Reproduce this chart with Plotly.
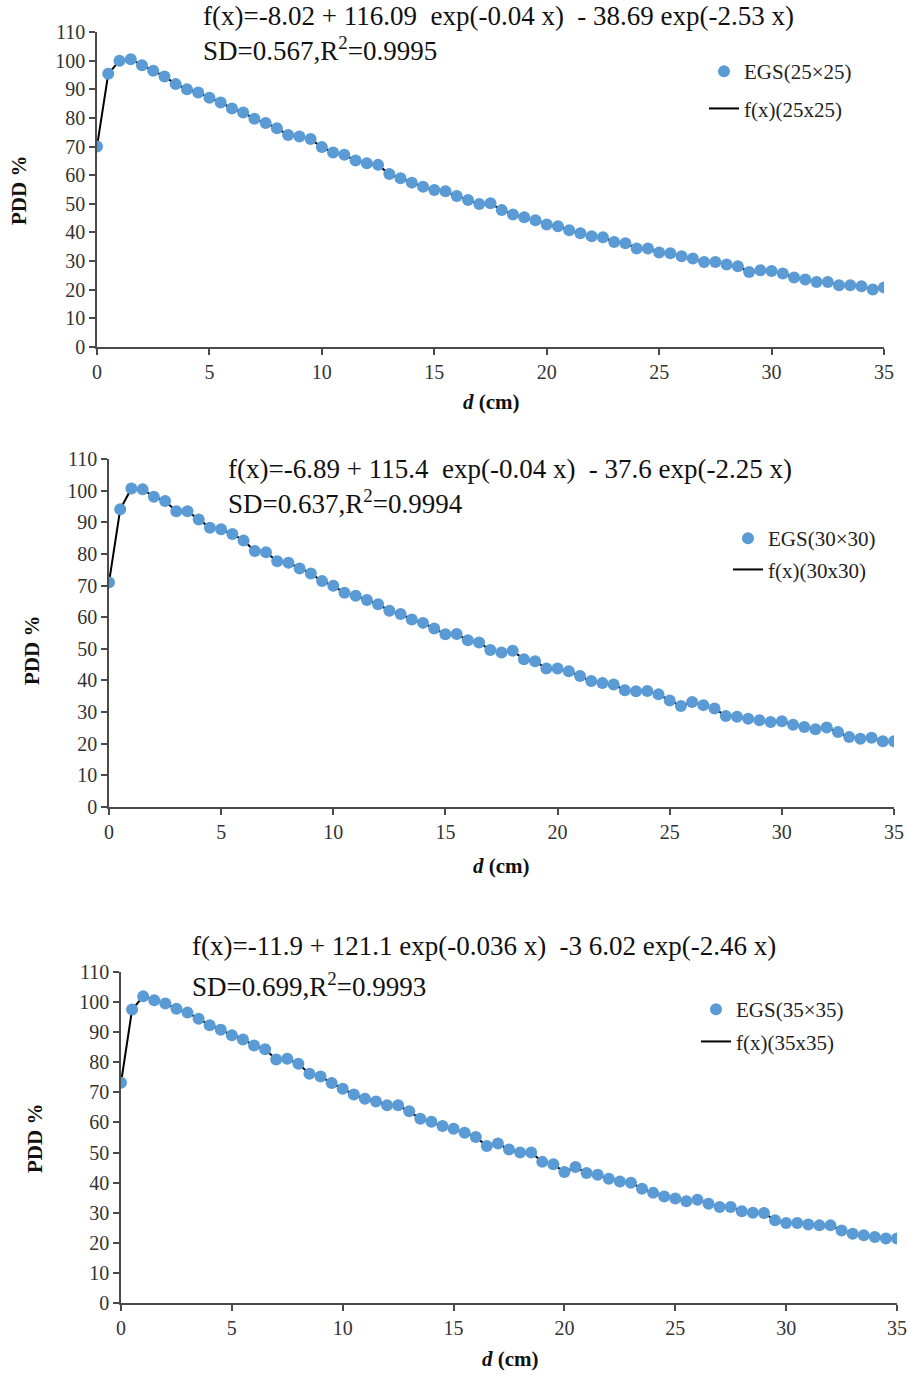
import plotly.graph_objects as go

# Depth grid (cm), shared by all three field sizes
depth_cm = [i * 0.5 for i in range(71)]

# EGS percentage depth dose, 25x25 field
pdd_25 = [70.0, 95.4, 100.0, 100.5, 98.4, 96.5, 94.5, 91.8, 90.0, 88.9,
          87.0, 85.4, 83.3, 81.9, 79.7, 78.2, 76.4, 74.0, 73.5, 72.6,
          69.8, 67.9, 67.1, 65.1, 64.2, 63.6, 60.4, 58.9, 57.4, 56.0,
          54.8, 54.4, 52.7, 51.3, 49.9, 50.2, 47.8, 46.3, 45.3, 44.3,
          42.8, 42.2, 40.8, 39.7, 38.7, 38.3, 36.7, 36.2, 34.4, 34.4,
          33.0, 32.7, 31.7, 30.9, 29.7, 29.7, 28.8, 28.2, 26.2, 26.8,
          26.5, 25.7, 24.3, 23.6, 22.7, 22.7, 21.6, 21.6, 21.2, 20.1,
          20.8]

# EGS percentage depth dose, 30x30 field
pdd_30 = [71.0, 94.1, 100.7, 100.4, 98.1, 96.7, 93.5, 93.5, 90.9, 88.3,
          87.8, 86.3, 84.2, 80.9, 80.5, 77.7, 77.2, 75.4, 73.8, 71.4,
          69.9, 67.7, 66.8, 65.4, 64.1, 62.0, 61.0, 59.3, 58.2, 56.4,
          54.6, 54.7, 52.7, 52.0, 49.6, 48.8, 49.4, 46.7, 46.1, 43.8,
          43.8, 42.9, 41.4, 39.8, 39.2, 38.7, 36.9, 36.6, 36.7, 35.6,
          33.7, 31.9, 33.2, 32.2, 31.1, 28.8, 28.5, 27.9, 27.4, 26.9,
          27.1, 26.0, 25.3, 24.6, 25.1, 23.7, 22.1, 21.6, 21.9, 20.8,
          20.8]

# EGS percentage depth dose, 35x35 field
pdd_35 = [73.2, 97.5, 101.9, 100.6, 99.5, 97.8, 96.5, 94.5, 92.3, 90.8,
          89.0, 87.6, 85.6, 84.3, 80.9, 81.2, 79.5, 76.2, 75.3, 73.1,
          71.2, 69.3, 67.9, 67.0, 65.7, 65.7, 63.7, 61.2, 60.2, 58.8,
          57.9, 56.6, 55.2, 52.2, 53.0, 51.0, 50.0, 50.0, 46.9, 46.1,
          43.5, 45.2, 43.2, 42.6, 41.3, 40.4, 40.0, 38.0, 36.6, 35.4,
          34.7, 33.8, 34.3, 33.0, 31.9, 31.9, 30.5, 30.0, 29.9, 27.5,
          26.6, 26.6, 26.1, 25.8, 25.8, 24.1, 23.0, 22.5, 21.9, 21.4,
          21.4]

eq_text = [
    "f(x)=-8.02 + 116.09  exp(-0.04 x)  - 38.69 exp(-2.53 x)",
    "f(x)=-6.89 + 115.4  exp(-0.04 x)  - 37.6 exp(-2.25 x)",
    "f(x)=-11.9 + 121.1 exp(-0.036 x)  -3 6.02 exp(-2.46 x)",
]
stat_text = [
    "SD=0.567,R<sup>2</sup>=0.9995",
    "SD=0.637,R<sup>2</sup>=0.9994",
    "SD=0.699,R<sup>2</sup>=0.9993",
]
egs_names = ["EGS(25×25)", "EGS(30×30)", "EGS(35×35)"]
fit_names = ["f(x)(25x25)", "f(x)(30x30)", "f(x)(35x35)"]

x_ticks = [0, 5, 10, 15, 20, 25, 30, 35]
y_ticks = list(range(0, 111, 10))

W, H = 908, 1374
FONT = "Liberation Serif"
BLUE = "#5B9BD5"
AXIS = "#4a4a4a"


def px_x(p):
    return p / W


def px_y(p):
    return 1 - p / H


# Plot-area boxes in pixels: (left, right, top, bottom)
boxes = [(97, 884, 32, 347), (109, 894, 459, 807), (121, 897, 972, 1303)]
# Equation block: left px, line-1 centre, line-2 centre, stacked as one block?
eq_pos = [(201, 18, 48, True), (226, 471, 503, True), (190, 946, 985, False)]
# Legend anchor (left px, top px, gap between items)
leg_pos = [(704, 51, 7), (728, 518, 1), (696, 989, 2)]
# Axis-title anchor (PDD x, PDD y, d x, d y)
title_pos = [(19, 191, 491, 402), (32, 651, 502, 866), (35, 1139, 510, 1359)]

fig = go.Figure()
layout = dict(
    width=W, height=H,
    margin=dict(l=0, r=0, t=0, b=0, autoexpand=False),
    paper_bgcolor="white", plot_bgcolor="white",
    font=dict(family=FONT, color="#222"),
    annotations=[],
)

for i, pdd in enumerate([pdd_25, pdd_30, pdd_35]):
    n = "" if i == 0 else str(i + 1)
    leg = "legend" if i == 0 else f"legend{i + 1}"
    xa, ya = "x" + n, "y" + n
    # fitted curve runs beneath the Monte Carlo points
    fig.add_trace(go.Scatter(
        x=depth_cm, y=pdd, mode="lines", name=fit_names[i],
        line=dict(color="black", width=2),
        xaxis=xa, yaxis=ya, legend=leg, legendgroup=f"g{i}b", legendrank=2,
    ))
    fig.add_trace(go.Scatter(
        x=depth_cm, y=pdd, mode="markers", name=egs_names[i],
        marker=dict(color=BLUE, size=12, line=dict(width=0)),
        xaxis=xa, yaxis=ya, legend=leg, legendgroup=f"g{i}a", legendrank=1,
    ))

    l, r, t, b = boxes[i]
    common = dict(
        showline=True, linecolor=AXIS, linewidth=1.5,
        ticks="outside", ticklen=6, tickcolor=AXIS, tickwidth=1.5,
        showgrid=False, zeroline=False, automargin=False,
        tickfont=dict(family=FONT, size=20, color="#333"),
    )
    layout["xaxis" + n] = dict(
        common, domain=[px_x(l), px_x(r)], range=[0, 35],
        tickvals=x_ticks, anchor=ya,
    )
    layout["yaxis" + n] = dict(
        common, domain=[px_y(b), px_y(t)], range=[0, 110],
        tickvals=y_ticks, anchor=xa,
    )

    lx, ly, gap = leg_pos[i]
    layout[leg] = dict(
        x=px_x(lx), y=px_y(ly), xanchor="left", yanchor="top",
        bgcolor="rgba(0,0,0,0)", tracegroupgap=gap,
        font=dict(family=FONT, size=21, color="#222"),
    )

    ex, e1, e2, stacked = eq_pos[i]
    eq_font = dict(family=FONT, size=27, color="#111")
    if stacked:
        layout["annotations"].append(dict(
            text=eq_text[i] + "<br>" + stat_text[i], align="left",
            xref="paper", yref="paper", x=px_x(ex), y=px_y((e1 + e2) / 2),
            xanchor="left", yanchor="middle", showarrow=False, font=eq_font,
        ))
    else:
        for txt, yy in ((eq_text[i], e1), (stat_text[i], e2)):
            layout["annotations"].append(dict(
                text=txt, xref="paper", yref="paper",
                x=px_x(ex), y=px_y(yy), xanchor="left", yanchor="middle",
                showarrow=False, font=eq_font,
            ))

    px_, py_, dx_, dy_ = title_pos[i]
    layout["annotations"].append(dict(
        text="<b>PDD %</b>", xref="paper", yref="paper",
        x=px_x(px_), y=px_y(py_), xanchor="center", yanchor="middle",
        textangle=-90, showarrow=False,
        font=dict(family=FONT, size=21, color="#111"),
    ))
    layout["annotations"].append(dict(
        text="<b><i>d</i> (cm)</b>", xref="paper", yref="paper",
        x=px_x(dx_), y=px_y(dy_), xanchor="center", yanchor="middle",
        showarrow=False, font=dict(family=FONT, size=21, color="#111"),
    ))

fig.update_layout(**layout)
fig.write_html("out.html")
